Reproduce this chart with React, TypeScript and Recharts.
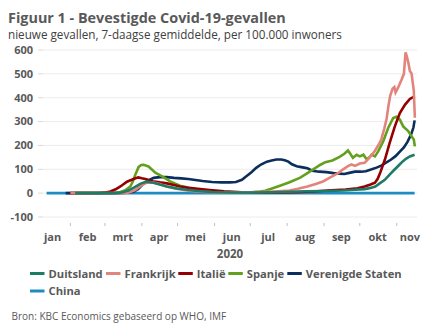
import React from 'react';
import { LineChart, Line, XAxis, YAxis, CartesianGrid } from 'recharts';

// ---------- data ----------
const titleText = 'Figuur 1 - Bevestigde Covid-19-gevallen';
const subtitleText = 'nieuwe gevallen, 7-daagse gemiddelde, per 100.000 inwoners';
const sourceText = 'Bron: KBC Economics gebaseerd op WHO, IMF';
const yearLabel = '2020';

const monthLabels = ['jan', 'feb', 'mrt', 'apr', 'mei', 'jun', 'jul', 'aug', 'sep', 'okt', 'nov'];
// day of year (Jan 1 = 0) where each month label sits
const monthLabelDays = [16, 45.5, 75, 105.5, 136, 166.5, 197, 228, 258.5, 289, 316];
// first day of each month (tick marks)
const monthBoundaryDays = [31, 60, 91, 121, 152, 182, 213, 244, 274, 305];
const yTicks = [-100, 0, 100, 200, 300, 400, 500, 600];

const seriesNames = ['Duitsland', 'Frankrijk', 'Italië', 'Spanje', 'Verenigde Staten', 'China'];

// [day of year, value]
const duitsland: [number, number][] = [
  [35, 0], [65, 0], [70, 1], [75, 4], [80, 12], [85, 25], [90, 40], [95, 48], [100, 45], [106, 36],
  [112, 28], [120, 20], [129, 14], [140, 8], [150, 5], [165, 3], [180, 3], [200, 4], [215, 6], [230, 8],
  [245, 9], [260, 11], [270, 14], [278, 17], [283, 22], [287, 28], [291, 42], [295, 56], [299, 78], [303, 98],
  [307, 118], [310, 133], [313, 145], [316, 154], [320, 161],
];

const frankrijk: [number, number][] = [
  [31, 0], [75, 0], [80, 3], [85, 12], [90, 30], [95, 44], [100, 45], [106, 38], [112, 28], [120, 18],
  [130, 10], [140, 6], [150, 4], [165, 3], [180, 4], [195, 6], [205, 8], [215, 11], [222, 18], [230, 28],
  [237, 38], [243, 49], [250, 68], [256, 85], [260, 100], [264, 113], [267, 120], [270, 114], [274, 124], [278, 127],
  [281, 143], [284, 160], [287, 180], [290, 205], [292, 225], [294.5, 270], [296.5, 312], [298, 365], [299.5, 408], [301.5, 438],
  [303, 445], [304, 422], [305.5, 436], [307, 452], [309, 475], [311, 500], [312.4, 590], [313.5, 572], [314.8, 545], [316, 512],
  [317.4, 502], [319.3, 430], [320.2, 316],
];

const italie: [number, number][] = [
  [31, 0], [55, 0], [60, 2], [64.5, 7], [69, 16], [73, 28], [78.5, 48], [84, 59], [88, 66], [91, 62],
  [94, 59], [100, 50], [106, 45], [112, 41], [118, 34], [123, 28], [130, 22], [140, 17], [148, 13], [160, 8],
  [175, 4], [190, 3], [205, 3], [220, 4], [235, 7], [250, 12], [262, 15], [272, 20], [278, 28], [283, 36],
  [286.7, 44], [289, 60], [291, 84], [295, 140], [299, 210], [303.4, 280], [307.6, 336], [312, 371], [316, 395], [320, 406],
];

const spanje: [number, number][] = [
  [35, 0], [65, 0], [70, 2], [73, 5], [77, 12], [81.3, 28], [83.5, 50], [85.5, 77], [88.3, 110], [90.5, 118],
  [92.5, 119], [96.6, 112], [102.3, 86], [108, 70], [114.8, 49], [123, 31], [131.6, 21], [140, 12], [150, 6], [160, 3],
  [175, 3], [185, 5], [190, 7], [194.5, 10], [199, 17], [207, 31], [215, 46], [224, 65], [232, 90], [240.6, 118],
  [245, 130], [251, 137], [257, 152], [261, 165], [264, 179], [266, 165], [268.2, 148], [271.3, 161], [274, 154], [277, 161],
  [279.7, 142], [282, 150], [283.9, 161], [286.7, 154], [289.4, 175], [293.6, 217], [297.8, 273], [302, 315], [304.8, 320], [307.6, 308],
  [310.4, 280], [314.6, 260], [317.4, 238], [319.3, 225], [320.2, 196],
];

const verenigdeStaten: [number, number][] = [
  [27, 0], [70, 0], [78, 2], [84, 6], [88, 18], [92, 38], [96, 52], [101, 64], [106, 67], [112, 67],
  [118, 64], [124, 62], [130, 59], [136, 55], [142, 51], [150, 47], [158, 45], [165, 45], [170, 47], [175, 56],
  [179, 72], [183, 88], [187, 106], [191, 120], [196, 132], [200, 137], [204, 141], [208, 141], [211, 138], [214, 132],
  [217, 121], [221, 113], [226, 108], [230, 104], [234, 94], [240, 90], [246, 88], [252, 84], [257, 82], [261, 80],
  [266, 86], [270, 90], [275, 90], [279, 92], [284, 100], [288, 107], [292, 115], [296, 128], [300, 140], [304, 155],
  [308, 176], [311, 192], [314, 215], [317, 245], [319, 275], [320, 305],
];

const china: [number, number][] = [
  [11, 0], [40, 0], [80, 0], [150, 0], [250, 0], [320, 0],
];

// ---------- styling ----------
const FONT = '"Open Sans", sans-serif';
const TEXT = '#595959';
const colors: Record<string, string> = {
  Duitsland: '#1E7B65',
  Frankrijk: '#E3847C',
  'Italië': '#960000',
  Spanje: '#63A01E',
  'Verenigde Staten': '#0C2E5E',
  China: '#1C8CC2',
};

const seriesData: Record<string, [number, number][]> = {
  Duitsland: duitsland,
  Frankrijk: frankrijk,
  'Italië': italie,
  Spanje: spanje,
  'Verenigde Staten': verenigdeStaten,
  China: china,
};

// drawing order (bottom first)
const drawOrder = ['China', 'Verenigde Staten', 'Spanje', 'Italië', 'Frankrijk', 'Duitsland'];

const legendLayout = [
  { x: 30, y: 273.5 },
  { x: 106, y: 273.5 },
  { x: 178.3, y: 273.5 },
  { x: 228.3, y: 273.5 },
  { x: 287.3, y: 273.5 },
  { x: 30, y: 291 },
];

const toData = (pts: [number, number][]) => pts.map(([d, v]) => ({ d, v }));

const XTick = (props: any) => {
  const { x, y, payload } = props;
  const idx = monthLabelDays.indexOf(payload.value);
  if (idx >= 0) {
    return (
      <g>
        <text x={x} y={y + 24} textAnchor="middle" fill={TEXT} fontSize={11} fontWeight={700} fontFamily={FONT}>
          {monthLabels[idx]}
        </text>
      </g>
    );
  }
  return (
    <g>
      <line x1={x} x2={x} y1={y + 6} y2={y + 9} stroke="#bfbfbf" strokeWidth={1} />
    </g>
  );
};

export default function App() {
  const xTicks = [...monthBoundaryDays, ...monthLabelDays].sort((a, b) => a - b);
  return (
    <div style={{ position: 'fixed', left: 0, top: 0, width: 432, height: 334, background: '#fff', overflow: 'hidden' }}>
      <div style={{ position: 'absolute', left: 0, top: 0 }}>
        <LineChart width={432} height={334} margin={{ top: 50, right: 15, bottom: 87, left: 0 }}>
          <CartesianGrid vertical={false} stroke="#ececec" strokeWidth={1} />
          <XAxis
            dataKey="d"
            type="number"
            domain={[8, 322]}
            allowDataOverflow
            ticks={xTicks}
            interval={0}
            tick={<XTick />}
            tickLine={false}
            axisLine={false}
            tickSize={0}
            tickMargin={0}
            height={30}
          />
          <YAxis
            type="number"
            domain={[-100, 600]}
            ticks={yTicks}
            interval={0}
            width={43}
            axisLine={false}
            tickLine={{ stroke: '#d9d9d9' }}
            tickSize={5}
            tickMargin={5}
            tick={{ fill: TEXT, fontSize: 11, fontWeight: 700, fontFamily: FONT }}
          />
          {drawOrder.map((name) => (
            <Line
              key={name}
              data={toData(seriesData[name])}
              dataKey="v"
              name={name}
              type="linear"
              stroke={colors[name]}
              strokeWidth={2.6}
              dot={false}
              activeDot={false}
              isAnimationActive={false}
            />
          ))}
        </LineChart>
      </div>
      <svg width={432} height={334} style={{ position: 'absolute', left: 0, top: 0, pointerEvents: 'none' }}>
        <text x={8} y={22.5} fill={TEXT} fontSize={14.4} fontWeight={700} fontFamily={FONT}>{titleText}</text>
        <text x={8} y={38.5} fill="#404040" fontSize={11.7} fontFamily={FONT}>{subtitleText}</text>
        <text x={230} y={258} textAnchor="middle" fill={TEXT} fontSize={11.5} fontWeight={700} fontFamily={FONT}>{yearLabel}</text>
        {seriesNames.map((name, i) => (
          <g key={name}>
            <line x1={legendLayout[i].x} x2={legendLayout[i].x + 14.5} y1={legendLayout[i].y} y2={legendLayout[i].y} stroke={colors[name]} strokeWidth={3} />
            <text x={legendLayout[i].x + 18.5} y={legendLayout[i].y + 4.3} fill={TEXT} fontSize={11.2} fontWeight={700} fontFamily={FONT}>{name}</text>
          </g>
        ))}
        <text x={11.5} y={320} fill={TEXT} fontSize={10} fontFamily={FONT}>{sourceText}</text>
      </svg>
    </div>
  );
}
